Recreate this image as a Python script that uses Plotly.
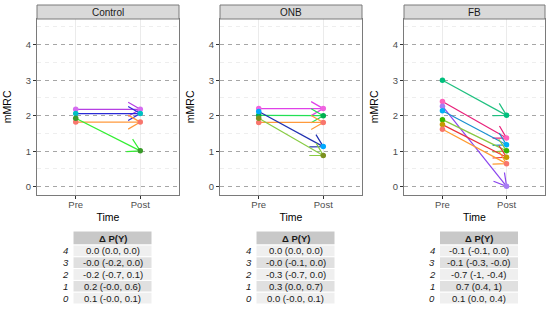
import math
import plotly.graph_objects as go

# ---------------- data ----------------
panels = ["Control", "ONB", "FB"]
time_labels = ["Pre", "Post"]
y_ticks = [0, 1, 2, 3, 4]

# per panel: pre values, post values, line colours, point colours
control_pre = [2.18, 2.06, 1.82, 1.93]
control_post = [2.18, 2.06, 1.82, 1.01]
control_line = ["#b53fe3", "#2a2ad6", "#ff9a3c", "#33ee33"]
control_pt = ["#d56cf0", "#00bfc4", "#f8766d", "#3a9a2a"]

onb_pre = [2.20, 2.01, 1.81, 2.12, 1.93]
onb_post = [2.20, 2.00, 1.81, 1.13, 0.88]
onb_line = ["#e040e8", "#22e055", "#ff9a3c", "#2030b0", "#88cc44"]
onb_pt = ["#f064e0", "#00b050", "#f8766d", "#00a9ff", "#7c9020"]

fb_pre = [3.00, 2.40, 2.27, 2.14, 1.89, 1.75, 1.62]
fb_post = [2.01, 1.37, 0.01, 1.18, 1.01, 0.83, 0.65]
fb_line = ["#20c080", "#e8207a", "#8a44ee", "#1a90d0", "#88c840", "#e8303a", "#ff9a30"]
fb_pt = ["#00bf7d", "#ff62bc", "#a77cf4", "#00b0f6", "#39b600", "#c49a00", "#f8766d"]

table_levels = ["4", "3", "2", "1", "0"]
table_header = "Δ P(Y)"
control_dp = ["0.0 (0.0, 0.0)", "-0.0 (-0.2, 0.0)", "-0.2 (-0.7, 0.1)", "0.2 (-0.0, 0.6)", "0.1 (-0.0, 0.1)"]
onb_dp = ["0.0 (0.0, 0.0)", "-0.0 (-0.1, 0.0)", "-0.3 (-0.7, 0.0)", "0.3 (0.0, 0.7)", "0.0 (-0.0, 0.1)"]
fb_dp = ["-0.1 (-0.1, 0.0)", "-0.1 (-0.3, -0.0)", "-0.7 (-1, -0.4)", "0.7 (0.4, 1)", "0.1 (0.0, 0.4)"]

# ---------------- layout constants ----------------
W, H = 550, 326
FONT = "Liberation Sans, Arial, sans-serif"
x_dom = [(37, 179), (220, 362), (404, 545)]
y_top_px, y_bot_px = 19, 194.7
x_range = [-0.6, 1.6]
y_range = [-0.225, 4.725]

panel_data = [
    (control_pre, control_post, control_line, control_pt, control_dp),
    (onb_pre, onb_post, onb_line, onb_pt, onb_dp),
    (fb_pre, fb_post, fb_line, fb_pt, fb_dp),
]

fig = go.Figure()
shapes = []
annotations = []

arrow_len = 14.0  # px
arrow_ang = math.radians(30)
row_fills = ["#efefef", "#e0e0e0"]


def px2x(p):
    return p / W


def px2y(p):
    return 1 - p / H


for i, (pre, post, lcols, pcols, dp) in enumerate(panel_data):
    n = i + 1
    xa = "x" if n == 1 else f"x{n}"
    ya = "y" if n == 1 else f"y{n}"
    x0p, x1p = x_dom[i]
    sx = (x1p - x0p) / (x_range[1] - x_range[0])
    sy = (y_bot_px - y_top_px) / (y_range[1] - y_range[0])
    # segments with open arrow heads
    for a, b, lc in zip(pre, post, lcols):
        dx, dy = (0 - 1) * sx, (a - b) * sy
        L = math.hypot(dx, dy)
        ux, uy = dx / L, dy / L
        wings = []
        for s in (1, -1):
            c, si = math.cos(s * arrow_ang), math.sin(s * arrow_ang)
            rx, ry = ux * c - uy * si, ux * si + uy * c
            wings.append((1 + rx * arrow_len / sx, b + ry * arrow_len / sy))
        fig.add_trace(go.Scatter(
            x=[0, 1, None, wings[0][0], 1, wings[1][0]],
            y=[a, b, None, wings[0][1], b, wings[1][1]],
            mode="lines", line=dict(color=lc, width=1.2),
            xaxis=xa, yaxis=ya, showlegend=False, hoverinfo="skip"))
    for a, b, pc in zip(pre, post, pcols):
        fig.add_trace(go.Scatter(
            x=[0, 1], y=[a, b], mode="markers",
            marker=dict(color=pc, size=5.5),
            xaxis=xa, yaxis=ya, showlegend=False, hoverinfo="skip"))

    dom_x = [px2x(x0p), px2x(x1p)]
    dom_y = [px2y(y_bot_px), px2y(y_top_px)]
    ax_common = dict(showline=True, linecolor="#7a7a7a", linewidth=1, mirror=True,
                     ticks="outside", ticklen=3, tickcolor="#333333", tickwidth=1,
                     zeroline=False,
                     tickfont=dict(family=FONT, size=9.5, color="#4d4d4d"))
    fig.layout[f"xaxis{'' if n == 1 else n}"] = dict(
        domain=dom_x, range=x_range, tickvals=[0, 1], ticktext=time_labels,
        showgrid=True, gridcolor="#ebebeb", gridwidth=1, ticklabelstandoff=-2,
        title=dict(text="Time", font=dict(family=FONT, size=10.5, color="#000000"), standoff=4),
        anchor=ya, **ax_common)
    fig.layout[f"yaxis{'' if n == 1 else n}"] = dict(
        domain=dom_y, range=y_range, tickvals=y_ticks,
        showgrid=True, gridcolor="#a6a6a6", gridwidth=1, griddash="4px,4px",
        minor=dict(tickvals=[0.5, 1.5, 2.5, 3.5, 4.5], showgrid=True,
                   gridcolor="#eeeeee", gridwidth=0.8, ticks=""),
        title=dict(text="mMRC", font=dict(family=FONT, size=10.5, color="#000000"), standoff=12),
        anchor=xa, **ax_common)

    # strip
    shapes.append(dict(type="rect", xref="paper", yref="paper",
                       x0=dom_x[0], x1=dom_x[1], y0=px2y(y_top_px), y1=px2y(5),
                       fillcolor="#d9d9d9", line=dict(color="#7a7a7a", width=1)))
    annotations.append(dict(text=panels[i], xref="paper", yref="paper",
                            x=(dom_x[0] + dom_x[1]) / 2, y=px2y(12),
                            showarrow=False, xanchor="center", yanchor="middle",
                            font=dict(family=FONT, size=10, color="#1a1a1a")))

    # table (grid-style) built from the table arrays
    cx = (x0p + x1p) / 2 + 4.5
    c_left, c_right = cx - 39.5, cx + 39.5
    hdr_top, hdr_h, row_h = 231, 14, 11.8
    shapes.append(dict(type="rect", xref="paper", yref="paper",
                       x0=px2x(c_left), x1=px2x(c_right),
                       y0=px2y(hdr_top + hdr_h), y1=px2y(hdr_top),
                       fillcolor="#c8c8c8", line=dict(color="#ffffff", width=1)))
    annotations.append(dict(text=f"<b>{table_header}</b>", xref="paper", yref="paper",
                            x=px2x(cx), y=px2y(hdr_top + hdr_h / 2),
                            showarrow=False, xanchor="center", yanchor="middle",
                            font=dict(family=FONT, size=9.5, color="#1a1a1a")))
    for r, (lev, txt) in enumerate(zip(table_levels, dp)):
        top = hdr_top + hdr_h + r * row_h
        shapes.append(dict(type="rect", xref="paper", yref="paper",
                           x0=px2x(c_left), x1=px2x(c_right),
                           y0=px2y(top + row_h), y1=px2y(top),
                           fillcolor=row_fills[r % 2], line=dict(color="#ffffff", width=1)))
        annotations.append(dict(text=txt, xref="paper", yref="paper",
                                x=px2x(cx), y=px2y(top + row_h / 2),
                                showarrow=False, xanchor="center", yanchor="middle",
                                font=dict(family=FONT, size=9.5, color="#1a1a1a")))
        annotations.append(dict(text=f"<i>{lev}</i>", xref="paper", yref="paper",
                                x=px2x(c_left - 7.5), y=px2y(top + row_h / 2),
                                showarrow=False, xanchor="center", yanchor="middle",
                                font=dict(family=FONT, size=9.5, color="#1a1a1a")))

fig.update_layout(width=W, height=H, margin=dict(l=0, r=0, t=0, b=0),
                  plot_bgcolor="#ffffff", paper_bgcolor="#ffffff",
                  shapes=shapes, annotations=annotations, showlegend=False)
fig.write_html("out.html", config={"displayModeBar": False},
               post_script="document.body.style.margin='0';document.body.style.overflow='hidden';")
